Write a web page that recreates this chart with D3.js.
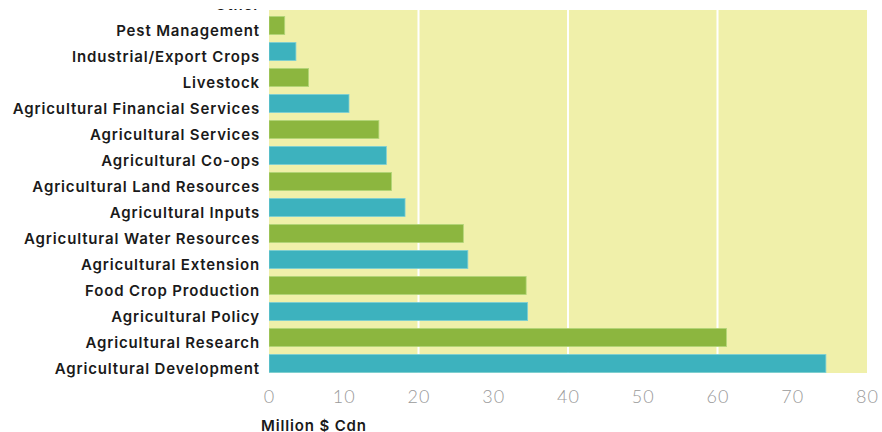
<!DOCTYPE html>
<html>
<head>
<meta charset="utf-8">
<script src="https://cdn.jsdelivr.net/npm/d3@7"></script>
<style>
  html, body { margin: 0; padding: 0; background: #ffffff; }
  svg { display: block; }
</style>
</head>
<body>
<svg id="chart" width="882" height="432"></svg>
<script>
// Funding by sub-sector, million $ Cdn
const categories = [
  "Other",
  "Pest Management",
  "Industrial/Export Crops",
  "Livestock",
  "Agricultural Financial Services",
  "Agricultural Services",
  "Agricultural Co-ops",
  "Agricultural Land Resources",
  "Agricultural Inputs",
  "Agricultural Water Resources",
  "Agricultural Extension",
  "Food Crop Production",
  "Agricultural Policy",
  "Agricultural Research",
  "Agricultural Development"
];
const values = [1.0, 2.1, 3.6, 5.3, 10.7, 14.7, 15.7, 16.4, 18.2, 26.0, 26.6, 34.4, 34.6, 61.2, 74.5];
const xTicks = [0, 10, 20, 30, 40, 50, 60, 70, 80];
const gridTicks = [20, 40, 60];
const axisTitle = "Million $ Cdn";

const GREEN = "#8cb63f";
const TEAL = "#3db2be";
const PANEL = "#f0f0aa";

const svg = d3.select("#chart");
const W = 882, H = 432;

const x = d3.scaleLinear().domain([0, 80]).range([269, 867]);
const y = d3.scaleBand().domain(categories).range([-13.5, 376.5])
  .paddingInner(0.3).paddingOuter(0.15);

const defs = svg.append("defs");
defs.append("clipPath").attr("id", "view")
  .append("rect").attr("x", 0).attr("y", 9).attr("width", W).attr("height", H - 9);
defs.append("clipPath").attr("id", "panel")
  .append("rect").attr("x", x(0)).attr("y", 10).attr("width", x(80) - x(0)).attr("height", 363);

const root = svg.append("g").attr("clip-path", "url(#view)");

// panel background
root.append("rect")
  .attr("x", x(0)).attr("y", 10)
  .attr("width", x(80) - x(0)).attr("height", 363)
  .attr("fill", PANEL);

const plot = root.append("g").attr("clip-path", "url(#panel)");

// vertical grid lines
plot.selectAll("line.grid").data(gridTicks).join("line")
  .attr("class", "grid")
  .attr("x1", d => x(d)).attr("x2", d => x(d))
  .attr("y1", 10).attr("y2", 373)
  .attr("stroke", "#ffffff").attr("stroke-width", 2);

// bars, alternating colours from the bottom up
const n = categories.length;
plot.selectAll("rect.bar").data(categories).join("rect")
  .attr("class", "bar")
  .attr("x", x(0))
  .attr("y", d => y(d))
  .attr("width", (d, i) => x(values[i]) - x(0))
  .attr("height", y.bandwidth())
  .attr("fill", (d, i) => ((n - 1 - i) % 2 === 0) ? TEAL : GREEN)
  .attr("stroke", (d, i) => ((n - 1 - i) % 2 === 0) ? "#7fd0d6" : "#b3d67a")
  .attr("stroke-width", 0.8);

const labelFont = sel => sel
  .attr("fill", "#1a1a1a")
  .style("font-family", "Inter, 'Open Sans', sans-serif")
  .style("font-weight", 600)
  .style("font-size", "15px")
  .style("letter-spacing", "0.85px");

// category labels
const yAxis = d3.axisLeft(y).tickSize(0).tickPadding(0);
const gy = root.append("g").attr("transform", `translate(${x(0) - 9},0)`).call(yAxis);
gy.select(".domain").remove();
gy.selectAll("text")
  .attr("dy", null)
  .attr("y", 10)
  .call(labelFont);

// value axis
const xAxis = d3.axisBottom(x).tickValues(xTicks).tickSize(0).tickPadding(0).tickFormat(d3.format("d"));
const gx = root.append("g").attr("transform", "translate(0,403)").call(xAxis);
gx.select(".domain").remove();
gx.selectAll("text")
  .attr("dy", null)
  .attr("y", 0)
  .attr("fill", "#9a9a9a")
  .style("font-family", "Lato, 'Open Sans', sans-serif")
  .style("font-weight", 300)
  .style("font-size", "18px")
  .style("letter-spacing", "1px");

root.append("text")
  .attr("x", 261).attr("y", 431)
  .call(labelFont)
  .text(axisTitle);
</script>
</body>
</html>
